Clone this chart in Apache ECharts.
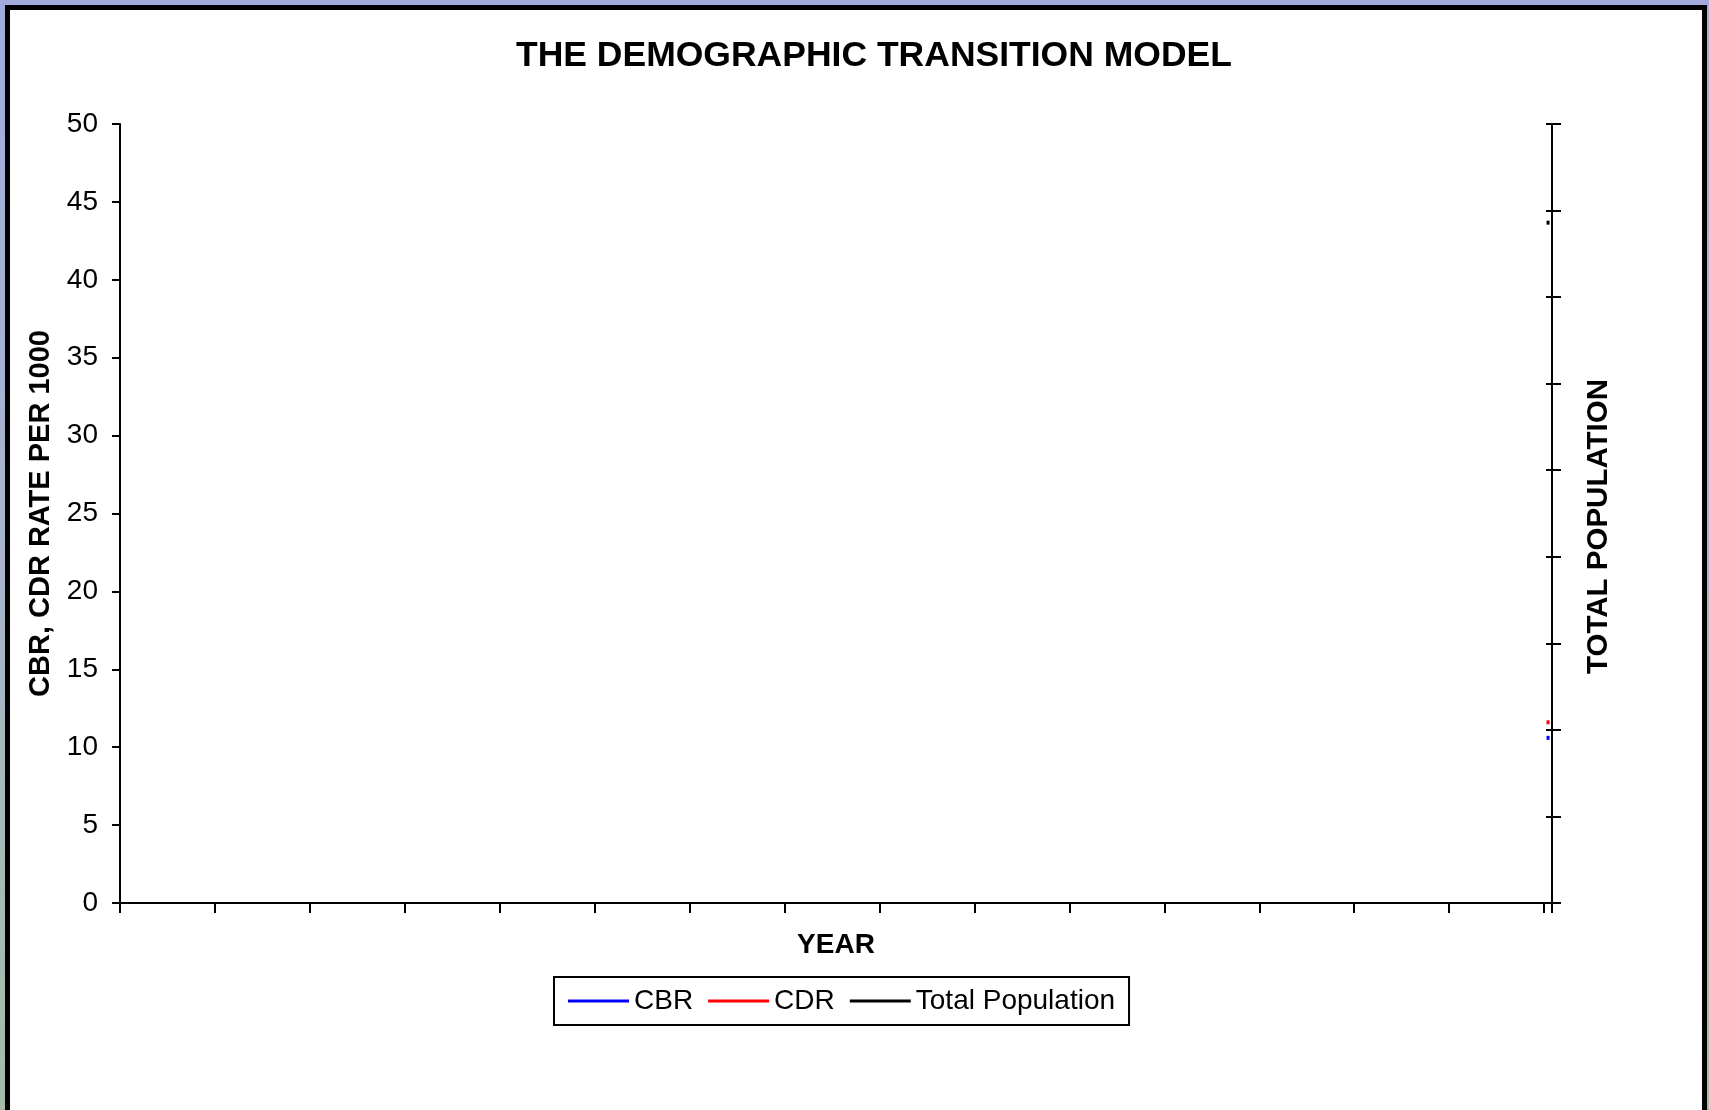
<!DOCTYPE html>
<html>
<head>
<meta charset="utf-8">
<script src="https://cdn.jsdelivr.net/npm/echarts@6/dist/echarts.min.js"></script>
<style>
  html, body { margin: 0; padding: 0; width: 1709px; height: 1110px; overflow: hidden;
    background: linear-gradient(to bottom, #a3abdc 0%, #a9b4cc 50%, #a6bba4 100%); }
  #frame { position: absolute; left: 5px; top: 5px; width: 1692px; height: 1200px;
    background: #fff; border: 5px solid #000; }
  #chart { position: absolute; left: 0; top: 0; width: 1709px; height: 1110px; }
</style>
</head>
<body>
<div id="frame"></div>
<div id="chart"></div>
<script>
// ---- data ----
const titleText = 'THE DEMOGRAPHIC TRANSITION MODEL';
const leftAxisName = 'CBR, CDR RATE PER 1000';
const rightAxisName = 'TOTAL POPULATION';
const xAxisName = 'YEAR';
const categoryCount = 181;               // year slots on the category axis (labels not shown)
const categories = Array.from({ length: categoryCount }, (_, i) => String(i + 1));
const seriesNames = ['CBR', 'CDR', 'Total Population'];
// only the last year carries visible values in the picture
const cbrValues = [[180, 10.6]];
const cdrValues = [[180, 11.6]];
const populationValues = [[180, 7.86]];
const leftAxisMin = 0, leftAxisMax = 50, leftAxisStep = 5;
const rightAxisMin = 0, rightAxisMax = 9, rightAxisStep = 1;

const FONT = "'Liberation Sans', Arial, sans-serif";
const chart = echarts.init(document.getElementById('chart'), null, { renderer: 'canvas' });

const dotStyle = (color) => ({
  type: 'line',
  showSymbol: true,
  symbol: 'rect',
  symbolSize: [3, 4],
  itemStyle: { color: color },
  lineStyle: { color: color, width: 3 },
  emphasis: { disabled: true },
  animation: false
});

chart.setOption({
  backgroundColor: 'transparent',
  animation: false,
  title: {
    text: titleText,
    left: 516, top: 38, padding: 0,
    textStyle: { fontFamily: FONT, fontSize: 35.5, fontWeight: 'bold', color: '#000' }
  },
  legend: {
    data: seriesNames,
    left: 554, top: 977,
    padding: [10, 14],
    borderColor: '#000', borderWidth: 2,
    itemGap: 15, itemWidth: 61, itemHeight: 3,
    icon: 'rect',
    textStyle: { fontFamily: FONT, fontSize: 28, color: '#000' }
  },
  grid: { left: 120, right: 157, top: 124, bottom: 207, containLabel: false },
  xAxis: {
    type: 'category',
    data: categories,
    boundaryGap: true,
    name: xAxisName,
    nameLocation: 'middle',
    nameGap: 28,
    nameTextStyle: { fontFamily: FONT, fontSize: 28, fontWeight: 'bold', color: '#000' },
    axisLine: { show: true, lineStyle: { color: '#000', width: 2 } },
    axisTick: { show: true, interval: 11, length: 10, lineStyle: { color: '#000', width: 2 } },
    axisLabel: { show: false },
    splitLine: { show: false }
  },
  yAxis: [
    {
      type: 'value', position: 'left',
      min: leftAxisMin, max: leftAxisMax, interval: leftAxisStep,
      name: leftAxisName, nameLocation: 'middle', nameGap: 64, nameRotate: 90,
      nameTextStyle: { fontFamily: FONT, fontSize: 29, fontWeight: 'bold', color: '#000' },
      axisLine: { show: true, lineStyle: { color: '#000', width: 2 } },
      axisTick: { show: true, length: 8, lineStyle: { color: '#000', width: 2 } },
      axisLabel: { show: true, margin: 22, fontFamily: FONT, fontSize: 28, color: '#000' },
      splitLine: { show: false }
    },
    {
      type: 'value', position: 'right',
      min: rightAxisMin, max: rightAxisMax, interval: rightAxisStep,
      name: rightAxisName, nameLocation: 'middle', nameGap: 32, nameRotate: 90,
      nameTextStyle: { fontFamily: FONT, fontSize: 29.5, fontWeight: 'bold', color: '#000',
        padding: [0, 26, 0, 0] },
      axisLine: { show: true, lineStyle: { color: '#000', width: 2 } },
      axisTick: { show: true, length: 9, lineStyle: { color: '#000', width: 2 } },
      axisLabel: { show: false },
      splitLine: { show: false }
    },
    {
      type: 'value', position: 'right',
      min: rightAxisMin, max: rightAxisMax, interval: rightAxisStep,
      axisLine: { show: false },
      axisTick: { show: true, inside: true, length: 6, lineStyle: { color: '#000', width: 2 } },
      axisLabel: { show: false },
      splitLine: { show: false }
    }
  ],
  series: [
    Object.assign(dotStyle('#0000ff'), { name: seriesNames[0], yAxisIndex: 0, data: cbrValues }),
    Object.assign(dotStyle('#ff0000'), { name: seriesNames[1], yAxisIndex: 0, data: cdrValues }),
    Object.assign(dotStyle('#000000'), { name: seriesNames[2], yAxisIndex: 1, data: populationValues })
  ]
});
</script>
</body>
</html>
